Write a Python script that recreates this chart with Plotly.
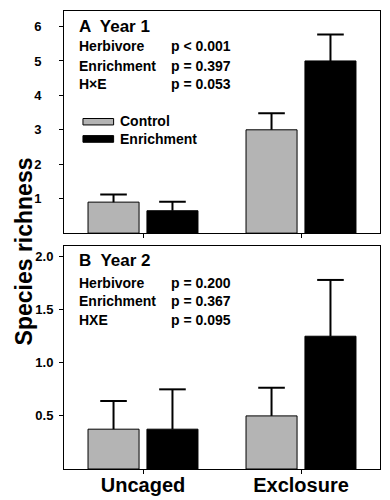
import plotly.graph_objects as go
from plotly.subplots import make_subplots

categories = ["Uncaged", "Exclosure"]
y1_control = [0.9, 3.0]
y1_control_err = [0.22, 0.48]
y1_enrich = [0.65, 5.0]
y1_enrich_err = [0.26, 0.77]
y2_control = [0.375, 0.5]
y2_control_err = [0.265, 0.265]
y2_enrich = [0.375, 1.25]
y2_enrich_err = [0.375, 0.53]

y1_ticks = [1, 2, 3, 4, 5, 6]
y2_ticks = [0.5, 1.0, 1.5, 2.0]
y2_ticktext = ["0.5", "1.0", "1.5", "2.0"]

statsA = [("Herbivore", "p < 0.001"), ("Enrichment", "p = 0.397"), ("H\u00d7E", "p = 0.053")]
statsB = [("Herbivore", "p = 0.200"), ("Enrichment", "p = 0.367"), ("HXE", "p = 0.095")]

FONT = "Arial, Liberation Sans, Helvetica, sans-serif"
GRAY = "#b4b4b4"
BAR_W = 0.323
OFFSETS = [-0.348, 0.025]

xpos = list(range(len(categories)))

fig = make_subplots(rows=2, cols=1, shared_xaxes=True)

def add_bars(row, ctrl, ctrl_err, enr, enr_err):
    for vals, err, color, off in [(ctrl, ctrl_err, GRAY, OFFSETS[0]), (enr, enr_err, "black", OFFSETS[1])]:
        fig.add_trace(go.Bar(
            x=xpos, y=vals, width=BAR_W, offset=off,
            marker=dict(color=color, line=dict(color="black", width=1)),
            error_y=dict(type="data", array=err, arrayminus=[0] * len(err), symmetric=False,
                         color="black", thickness=2, width=0),
            showlegend=False, hoverinfo="skip",
        ), row=row, col=1)
        # error-bar caps
        fig.add_trace(go.Scatter(
            x=[p + off + BAR_W / 2 for p in xpos],
            y=[v + e for v, e in zip(vals, err)],
            mode="markers",
            marker=dict(symbol="line-ew", size=19, line=dict(color="black", width=2)),
            showlegend=False, hoverinfo="skip",
        ), row=row, col=1)

add_bars(1, y1_control, y1_control_err, y1_enrich, y1_enrich_err)
add_bars(2, y2_control, y2_control_err, y2_enrich, y2_enrich_err)

axis_common = dict(showline=True, mirror=True, linecolor="black", linewidth=1,
                   showgrid=False, zeroline=False, ticks="outside", ticklen=4,
                   tickcolor="black", tickwidth=1, automargin=False)

fig.update_layout(
    template="none",
    width=390, height=500,
    margin=dict(l=64, r=10, t=11, b=31, autoexpand=False),
    plot_bgcolor="white", paper_bgcolor="white",
    barmode="overlay",
    font=dict(family=FONT, color="black"),
    xaxis=dict(domain=[0, 1], anchor="y", range=[-0.5, 1.5], tickvals=xpos,
               showticklabels=False, **axis_common),
    xaxis2=dict(domain=[0, 1], anchor="y2", range=[-0.5, 1.5], tickvals=xpos, ticktext=categories,
                showticklabels=True, ticklabelstandoff=-6,
                tickfont=dict(size=20, weight="bold", family=FONT), **axis_common),
    yaxis=dict(domain=[0.515, 1], range=[0, 6.45], tickvals=y1_ticks,
               tickfont=dict(size=13, weight="bold", family=FONT), ticklabelstandoff=15, **axis_common),
    yaxis2=dict(domain=[0, 0.487], range=[0, 2.1], tickvals=y2_ticks, ticktext=y2_ticktext,
                tickfont=dict(size=13, weight="bold", family=FONT), ticklabelstandoff=3, **axis_common),
)

ann = []
def txt(xref, yref, x, y, text, size, xanchor="left"):
    ann.append(dict(xref=xref, yref=yref, x=x, y=y, text=text, showarrow=False,
                    xanchor=xanchor, yanchor="middle", borderpad=0, align="left",
                    font=dict(size=size, weight="bold", family=FONT, color="black")))

# Panel A
txt("x domain", "y domain", 0.044, 0.93, "A  Year 1", 17)
for (lab, p), yy in zip(statsA, [0.842, 0.752, 0.671]):
    txt("x domain", "y domain", 0.044, yy, lab, 14)
    txt("x domain", "y domain", 0.335, yy, p, 14)
txt("x domain", "y domain", 0.174, 0.465, "Control<br>Enrichment", 14)

# Panel B
txt("x2 domain", "y2 domain", 0.044, 0.933, "B  Year 2", 17)
for (lab, p), yy in zip(statsB, [0.834, 0.753, 0.668]):
    txt("x2 domain", "y2 domain", 0.044, yy, lab, 14)
    txt("x2 domain", "y2 domain", 0.335, yy, p, 14)

# Y-axis title
ann.append(dict(xref="paper", yref="paper", x=0, y=0.475, xshift=-40, text="Species richness",
                textangle=-90, showarrow=False, xanchor="center", yanchor="middle",
                font=dict(size=23, weight="bold", family=FONT, color="black")))

fig.update_layout(annotations=ann)

# Legend swatches
shapes = []
for (y0, y1), col in [((0.487, 0.516), GRAY), ((0.409, 0.439), "black")]:
    shapes.append(dict(type="rect", xref="x domain", yref="y domain", x0=0.060, x1=0.157,
                       y0=y0, y1=y1, fillcolor=col, line=dict(color="black", width=1)))
fig.update_layout(shapes=shapes)

fig.write_html("out.html", config={"displayModeBar": False},
               post_script="document.body.style.margin='0';document.body.style.padding='0';")
